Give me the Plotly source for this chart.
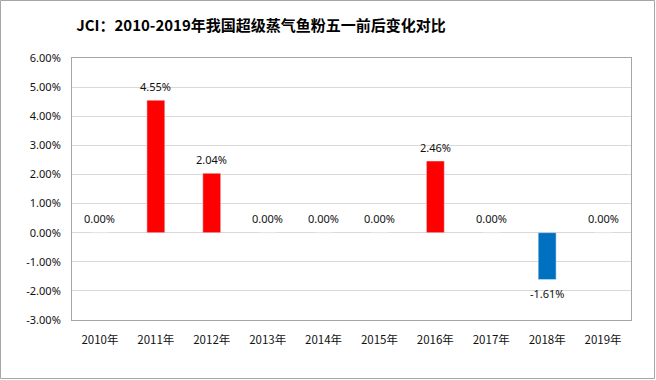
import plotly.graph_objects as go

years = ["2010年", "2011年", "2012年", "2013年", "2014年", "2015年", "2016年", "2017年", "2018年", "2019年"]
values = [0.0, 4.55, 2.04, 0.0, 0.0, 0.0, 2.46, 0.0, -1.61, 0.0]
labels = ["0.00%", "4.55%", "2.04%", "0.00%", "0.00%", "0.00%", "2.46%", "0.00%", "-1.61%", "0.00%"]
tick_vals = [-3, -2, -1, 0, 1, 2, 3, 4, 5, 6]
tick_text = ["-3.00%", "-2.00%", "-1.00%", "0.00%", "1.00%", "2.00%", "3.00%", "4.00%", "5.00%", "6.00%"]

colors = ["#0070C0" if v < 0 else "#FF0000" for v in values]

fig = go.Figure()
fig.add_trace(go.Bar(
    x=years, y=values, marker_color=colors, width=0.32,
))

for x, v, t in zip(years, values, labels):
    fig.add_annotation(x=x, y=v, text=t, showarrow=False,
                       yshift=(-14 if v < 0 else 14),
                       font=dict(family="Noto Sans", size=11, color="#111111"))

fig.update_layout(
    width=656, height=380,
    margin=dict(l=72, r=25, t=58, b=60),
    paper_bgcolor="white", plot_bgcolor="white",
    font=dict(family="Noto Sans, Noto Sans CJK SC", size=11, color="#111111"),
    title=dict(text="<b>JCI：2010-2019年我国超级蒸气鱼粉五一前后变化对比</b>",
               x=261/656, xanchor="center", y=1-26/380, yanchor="middle",
               font=dict(family="Noto Sans CJK SC", size=15, color="#000000")),
    showlegend=False,
)
fig.update_yaxes(range=[-3, 6], tickvals=tick_vals, ticktext=tick_text,
                 showgrid=True, gridcolor="#D9D9D9", zeroline=False,
                 showline=True, linecolor="#A6A6A6", mirror=True, ticks="",
                 ticklabelstandoff=8)
fig.update_xaxes(showline=True, linecolor="#A6A6A6", mirror=True, ticks="",
                 ticklabelstandoff=9,
                 tickfont=dict(family="Noto Sans CJK SC", size=11.5))
fig.add_shape(type="rect", xref="paper", yref="paper", x0=-71.5/559, x1=1+23.5/559,
              y0=-58.5/262, y1=1+57.5/262, line=dict(color="#A6A6A6", width=1))
fig.write_html("out.html", config={"displayModeBar": False},
               post_script="document.body.style.margin='0';")
